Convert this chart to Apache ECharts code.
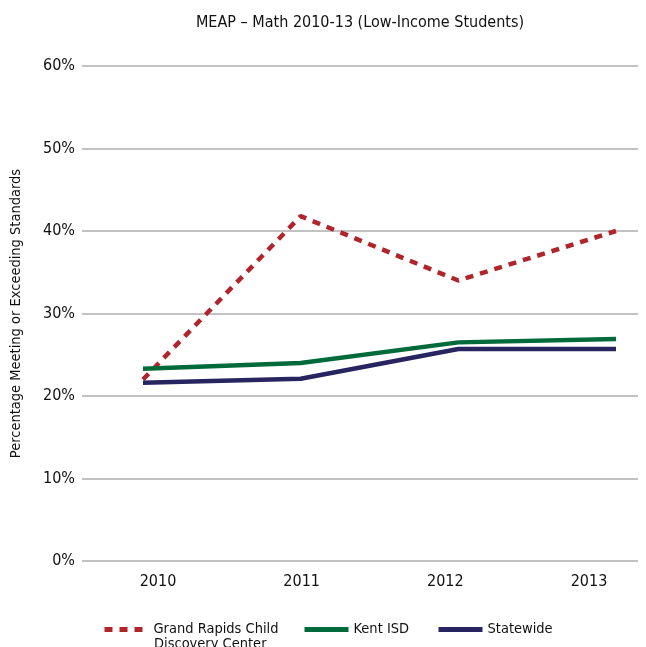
<!DOCTYPE html>
<html>
<head>
<meta charset="utf-8">
<script src="https://cdn.jsdelivr.net/npm/echarts@6/dist/echarts.min.js"></script>
<style>
  html, body { margin: 0; padding: 0; background: #fff; }
  #box { width: 646px; height: 647px; }
</style>
</head>
<body>
<div id="box"></div>
<script>
var years = ['2010', '2011', '2012', '2013'];
var grandRapids = [22, 41.8, 34, 40];
var kentIsd = [23.3, 24, 26.5, 26.9];
var statewide = [21.6, 22.1, 25.7, 25.7];

var font = "'Liberation Sans Narrow', 'DejaVu Sans Condensed', sans-serif";

var dom = document.getElementById("box");
var myChart = echarts.init(dom);

function lineSeries(name, data, color, type) {
    return {
        name: name,
        type: 'line',
        xAxisIndex: 2,
        yAxisIndex: 2,
        data: data,
        symbol: 'none',
        lineStyle: {
            color: color,
            width: 4.5,
            type: type
        },
        itemStyle: { color: color }
    };
}

function oneLegend(name, left, label) {
    return {
        data: [name],
        left: left,
        top: 622,
        itemWidth: 44,
        itemHeight: 14,
        padding: 0,
        itemStyle: { opacity: 0, borderWidth: 0 },
        lineStyle: { width: 5 },
        formatter: function () { return label; },
        textStyle: { fontFamily: font, fontSize: 14.5, color: '#111' }
    };
}

option = {
    backgroundColor: '#fff',
    animation: false,
    title: {
        text: 'MEAP – Math 2010-13 (Low-Income Students)',
        left: 355,
        textAlign: 'center',
        top: 10,
        textStyle: { fontFamily: font, fontSize: 16, fontWeight: 'normal', color: '#111' }
    },
    legend: [
        oneLegend('Grand Rapids Child Discovery Center', 102, 'Grand Rapids Child'),
        oneLegend('Kent ISD', 302, 'Kent ISD'),
        oneLegend('Statewide', 436, 'Statewide')
    ],
    graphic: [{
        type: 'text',
        left: 154,
        top: 637,
        style: { text: 'Discovery Center', font: '14.5px ' + font, fill: '#111' }
    }],
    grid: [
        { left: 82, right: 8, top: 66, bottom: 86 },
        { left: 158, right: 57, top: 66, bottom: 86 },
        { left: 143, right: 30, top: 66, bottom: 86 }
    ],
    xAxis: [
        { gridIndex: 0, type: 'category', data: years, show: false },
        {
            gridIndex: 1, type: 'category', data: years, boundaryGap: false,
            axisLine: { show: false }, axisTick: { show: false },
            axisLabel: { margin: 13, fontFamily: font, fontSize: 16, color: '#111' }
        },
        { gridIndex: 2, type: 'category', data: years, boundaryGap: false, show: false }
    ],
    yAxis: [
        {
            gridIndex: 0, type: 'value', min: 0, max: 60, interval: 10,
            name: 'Percentage Meeting or Exceeding Standards',
            nameLocation: 'middle', nameRotate: 90, nameGap: 58,
            nameTextStyle: { fontFamily: font, fontSize: 14.5, color: '#111' },
            axisLine: { show: false }, axisTick: { show: false },
            axisLabel: { formatter: '{value}%', margin: 7, fontFamily: font, fontSize: 16, color: '#111' },
            splitLine: { lineStyle: { color: '#c2c2c2', width: 2 } }
        },
        { gridIndex: 1, type: 'value', min: 0, max: 60, show: false },
        { gridIndex: 2, type: 'value', min: 0, max: 60, show: false }
    ],
    series: [
        lineSeries('Grand Rapids Child Discovery Center', grandRapids, '#b0242b', [8, 7]),
        lineSeries('Kent ISD', kentIsd, '#006a3b', 'solid'),
        lineSeries('Statewide', statewide, '#27245f', 'solid')
    ]
};
if (option && typeof option === "object") {
    myChart.setOption(option, true);
}
</script>
</body>
</html>
